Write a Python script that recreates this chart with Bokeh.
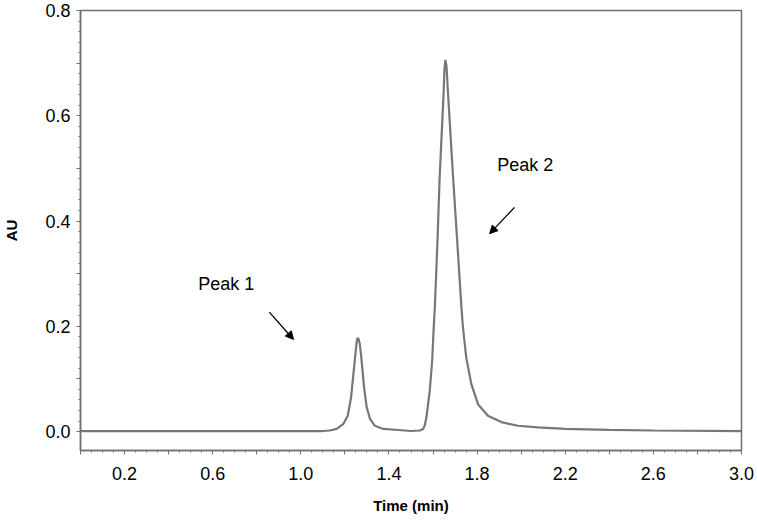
from bokeh.plotting import figure
from bokeh.models import Arrow, NormalHead, Label, FixedTicker, Range1d
from bokeh.embed import file_html
from bokeh.resources import INLINE

# Chromatogram trace
time_min = [0.00, 0.50, 1.00, 1.10, 1.13, 1.163, 1.193, 1.213, 1.228, 1.240, 1.249, 1.254,
            1.258, 1.262, 1.268, 1.276, 1.287, 1.299, 1.314, 1.336, 1.374, 1.442, 1.500,
            1.540, 1.555, 1.562, 1.570, 1.585, 1.596, 1.603, 1.608, 1.620, 1.630, 1.648,
            1.652, 1.656, 1.661, 1.668, 1.691, 1.710, 1.729, 1.736, 1.751, 1.774, 1.804,
            1.849, 1.910, 1.985, 2.076, 2.200, 2.400, 2.600, 3.000]
absorbance = [0.001, 0.001, 0.001, 0.001, 0.002, 0.005, 0.0145, 0.030, 0.065, 0.115, 0.153, 0.172,
              0.178, 0.176, 0.166, 0.134, 0.084, 0.046, 0.024, 0.011, 0.005, 0.003, 0.001,
              0.002, 0.005, 0.011, 0.027, 0.077, 0.134, 0.197, 0.234, 0.360, 0.483, 0.643,
              0.690, 0.706, 0.695, 0.643, 0.483, 0.360, 0.235, 0.197, 0.140, 0.090, 0.052,
              0.030, 0.018, 0.011, 0.008, 0.005, 0.003, 0.002, 0.001]

x_major = [0.0, 0.2, 0.4, 0.6, 0.8, 1.0, 1.2, 1.4, 1.6, 1.8, 2.0, 2.2, 2.4, 2.6, 2.8, 3.0]
x_labeled = [0.2, 0.6, 1.0, 1.4, 1.8, 2.2, 2.6, 3.0]
x_minor = [round(i * 0.05, 2) for i in range(61)]
y_major = [0.0, 0.1, 0.2, 0.3, 0.4, 0.5, 0.6, 0.7, 0.8]
y_labeled = [0.0, 0.2, 0.4, 0.6, 0.8]
y_minor = [round(i * 0.02, 2) for i in range(41)]

peak_names = ["Peak 1", "Peak 2"]

FONT = "Liberation Sans"
AXIS_COL = "#707070"

p = figure(width=757, height=521, output_backend="svg", toolbar_location=None,
           x_range=Range1d(0.0, 3.0), y_range=Range1d(-0.036, 0.8),
           min_border_left=78, min_border_right=16, min_border_top=10, min_border_bottom=71)

p.line(time_min, absorbance, line_color="#777777", line_width=2.2)

p.xgrid.visible = False
p.ygrid.visible = False
p.background_fill_color = "white"
p.border_fill_color = "white"
p.outline_line_color = AXIS_COL
p.outline_line_width = 1.5

p.xaxis.ticker = FixedTicker(ticks=x_major, minor_ticks=x_minor)
p.yaxis.ticker = FixedTicker(ticks=y_major, minor_ticks=y_minor)
p.xaxis.major_label_overrides = {v: ("" if v not in x_labeled else f"{v:.1f}") for v in x_major}
p.yaxis.major_label_overrides = {v: ("" if v not in y_labeled else f"{v:.1f}") for v in y_major}

for ax in (p.xaxis, p.yaxis):
    ax.axis_line_color = AXIS_COL
    ax.axis_line_width = 1.5
    ax.major_tick_line_color = AXIS_COL
    ax.minor_tick_line_color = AXIS_COL
    ax.major_tick_out = 4
    ax.major_tick_in = 0
    ax.minor_tick_out = 2
    ax.minor_tick_in = 0
    ax.major_label_text_font = FONT
    ax.major_label_text_font_size = "18px"
    ax.major_label_text_color = "black"
    ax.axis_label_text_font = FONT
    ax.axis_label_text_font_size = "15px"
    ax.axis_label_text_font_style = "bold"
    ax.axis_label_text_color = "black"

p.xaxis.axis_label = "Time (min)"
p.yaxis.axis_label = "AU"
p.xaxis.major_label_standoff = 12
p.xaxis.axis_label_standoff = 14
p.yaxis.major_label_standoff = 6
p.yaxis.axis_label_standoff = 22

# annotations
p.add_layout(Label(x=0.534, y=0.280, text=peak_names[0], text_font=FONT, text_font_size="18px",
                   text_baseline="middle", text_color="black"))
p.add_layout(Label(x=1.891, y=0.506, text=peak_names[1], text_font=FONT, text_font_size="18px",
                   text_baseline="middle", text_color="black"))
p.add_layout(Arrow(x_start=0.857, y_start=0.227, x_end=0.967, y_end=0.175,
                   line_color="black", line_width=1.3,
                   end=NormalHead(size=8, fill_color="black", line_color="black")))
p.add_layout(Arrow(x_start=1.970, y_start=0.426, x_end=1.857, y_end=0.376,
                   line_color="black", line_width=1.3,
                   end=NormalHead(size=8, fill_color="black", line_color="black")))

open("out.html", "w").write(file_html(p, INLINE))
